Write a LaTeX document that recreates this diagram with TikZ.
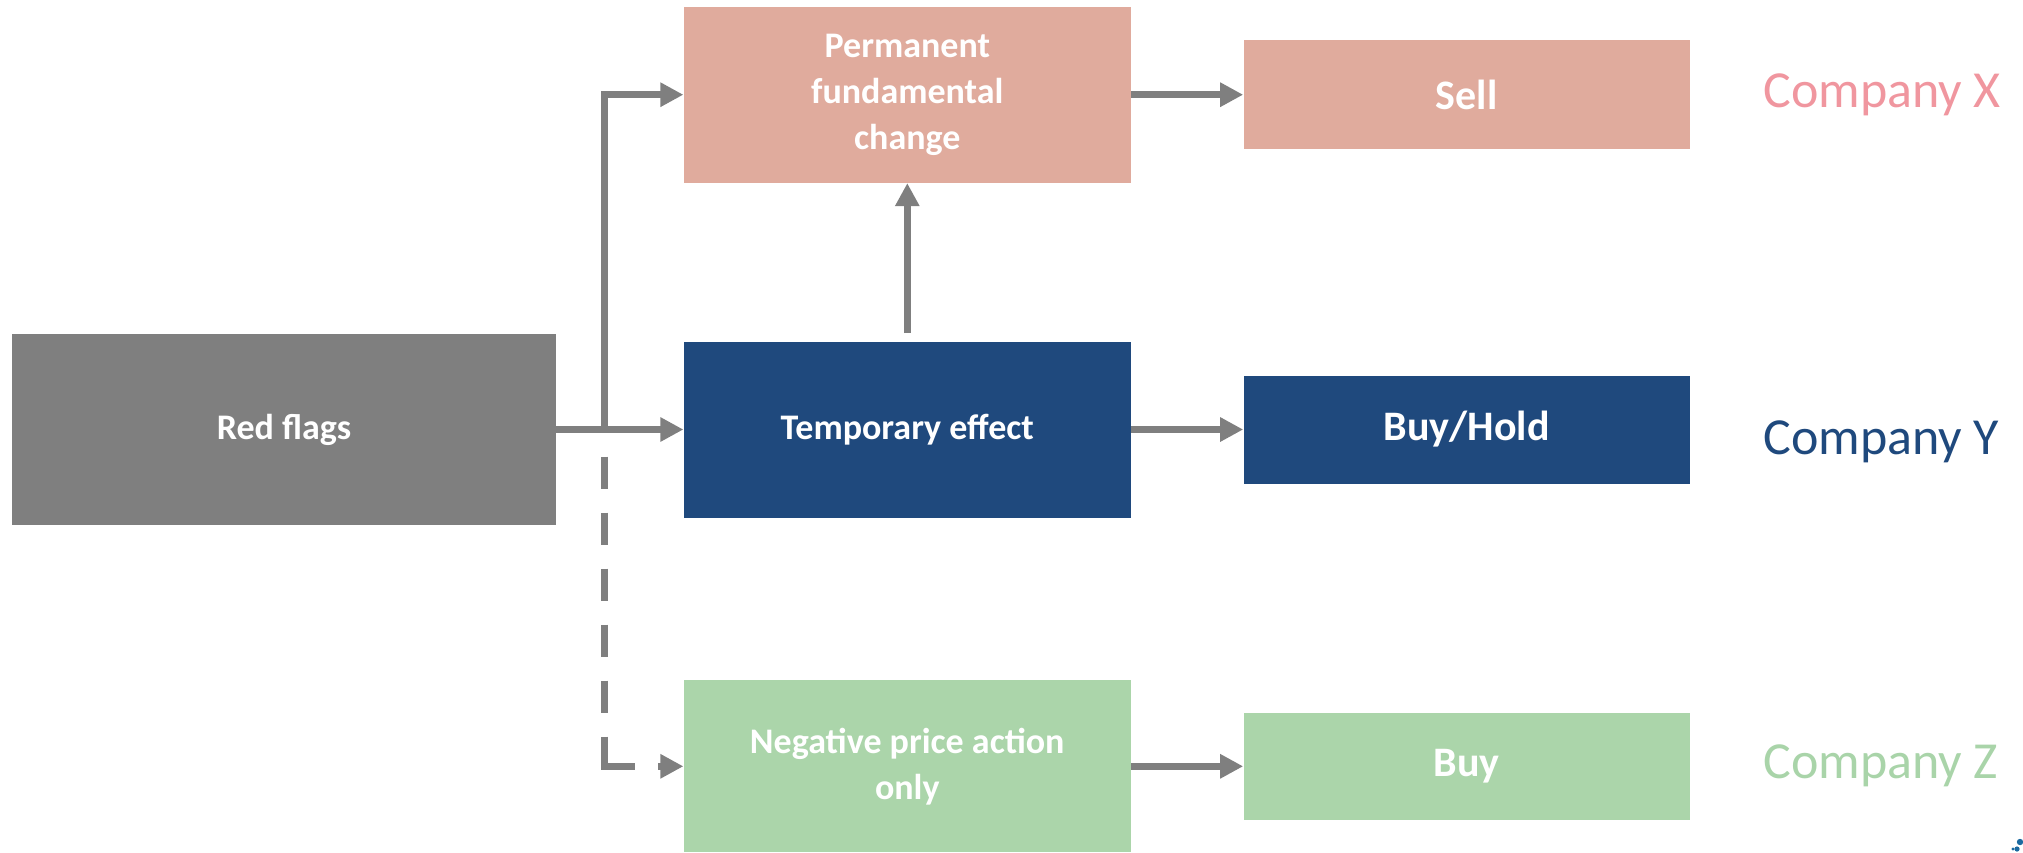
\documentclass[tikz,border=0pt]{standalone}
\usepackage{fontspec}
\setmainfont{Carlito}
\usetikzlibrary{arrows.meta,positioning}

\definecolor{flaggray}{HTML}{7F7F7F}
\definecolor{salmon}{HTML}{E0AB9D}
\definecolor{navy}{HTML}{1F497D}
\definecolor{mint}{HTML}{ABD5AA}
\definecolor{pinktext}{HTML}{F0969F}
\definecolor{minttext}{HTML}{A9D4A9}
\definecolor{logoblue}{HTML}{1B6AA0}

\begin{document}
\begin{tikzpicture}[
    >={Triangle[length=11.5pt,width=11.5pt]},
    block/.style={fill=#1, text=white, align=center, inner sep=0pt, font=\bfseries\fontsize{18}{23}\selectfont},
    midbox/.style={block=#1, minimum width=223.5pt, minimum height=88pt},
    endbox/.style={block=#1, minimum width=223pt, minimum height=54.5pt, font=\bfseries\fontsize{21}{25}\selectfont},
    company/.style={inner sep=0pt, anchor=west, font=\fontsize{26}{30}\selectfont},
    link/.style={draw=flaggray, line width=3.5pt, ->},
    dashlink/.style={draw=flaggray, line width=3.5pt, dash pattern=on 16pt off 12pt on 16pt off 12pt on 16pt off 12pt on 16pt off 12pt on 16pt off 12pt on 30pt off 20pt}
  ]
    \useasboundingbox (0pt,0pt) rectangle (1011.5pt,-426pt);

    \node[block=flaggray, minimum width=272pt, minimum height=95.5pt] (red) at (142pt,-214.75pt) {Red flags};
    \node[midbox=navy, right=63.5pt of red] (temp) {Temporary effect};
    \node[midbox=salmon, above=79pt of temp] (perm) {Permanent\\fundamental\\change};
    \node[midbox=mint, minimum height=86pt, below=81pt of temp] (neg) {Negative price action\\only};

    \node[endbox=salmon, right=56pt of perm] (sell) {Sell};
    \node[endbox=navy, minimum height=54pt, right=56pt of temp] (hold) {Buy/Hold};
    \node[endbox=mint, minimum height=53.5pt, right=56pt of neg] (buy) {Buy};

    \node[company, text=pinktext, right=36.5pt of sell] (cx) {Company X};
    \node[company, text=navy, right=36.5pt of hold, yshift=-6pt] (cy) {Company Y};
    \node[company, text=minttext, right=36.5pt of buy] (cz) {Company Z};

    \coordinate (split) at ([xshift=24pt]red.east);

    \draw[link] (red.east) -- (temp.west);
    \draw[link] (split) |- (perm.west);
    \draw[link] ([yshift=4pt]temp.north) -- (perm.south);
    \draw[dashlink] ([yshift=-13.5pt]split) |- ([xshift=-24pt]neg.west);
    \draw[link] ([xshift=-12.5pt]neg.west) -- (neg.west);

    \draw[link] (perm.east) -- (sell.west);
    \draw[link] (temp.east) -- (hold.west);
    \draw[link] (neg.east) -- (buy.west);

    \fill[logoblue] (1010pt,-421pt) circle (1.6pt);
    \fill[logoblue] (1008.5pt,-424.5pt) circle (1.3pt);
    \fill[logoblue] (1006.5pt,-424.5pt) circle (0.8pt);
\end{tikzpicture}
\end{document}
